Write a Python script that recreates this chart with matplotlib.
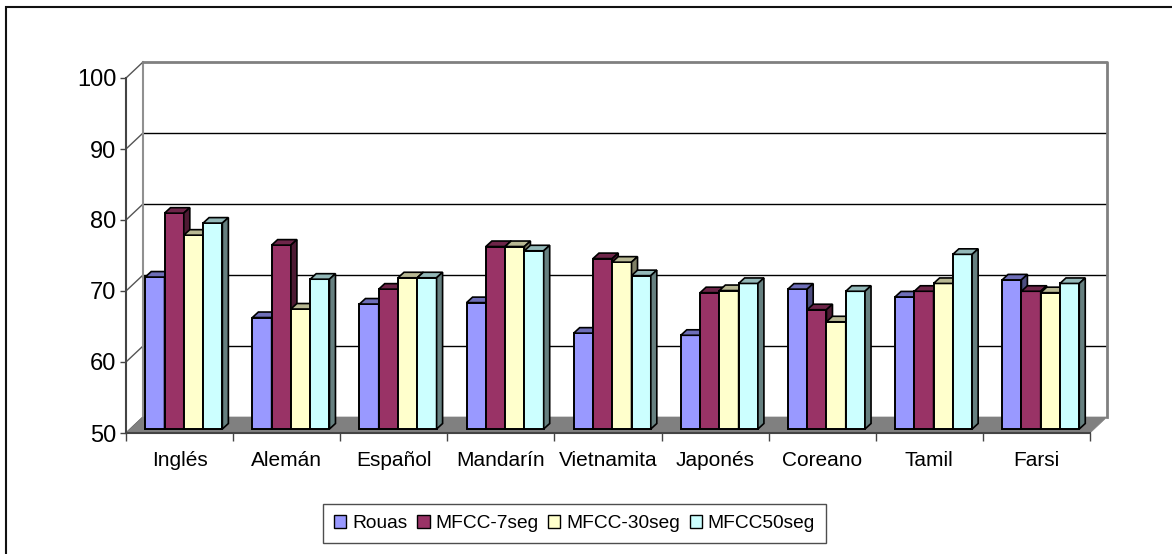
import matplotlib
matplotlib.use("Agg")
import matplotlib.pyplot as plt
from matplotlib.patches import Polygon, Patch, Rectangle
import numpy as np

plt.rcParams['font.family'] = ['Liberation Sans Narrow', 'Liberation Sans', 'DejaVu Sans']

categories = ['Inglés', 'Alemán', 'Español', 'Mandarín', 'Vietnamita',
              'Japonés', 'Coreano', 'Tamil', 'Farsi']
series_names = ['Rouas', 'MFCC-7seg', 'MFCC-30seg', 'MFCC50seg']
rouas = [71.4, 65.7, 67.6, 67.8, 63.5, 63.2, 69.7, 68.6, 71.0]
mfcc_7seg = [80.4, 75.9, 69.7, 75.7, 74.0, 69.2, 66.8, 69.4, 69.4]
mfcc_30seg = [77.3, 66.9, 71.3, 75.7, 73.5, 69.5, 65.1, 70.5, 69.2]
mfcc_50seg = [79.0, 71.1, 71.3, 75.1, 71.6, 70.5, 69.4, 74.6, 70.5]
y_ticks = [50, 60, 70, 80, 90, 100]

series = [rouas, mfcc_7seg, mfcc_30seg, mfcc_50seg]
front_colors = ['#9999FF', '#993366', '#FFFFCC', '#CCFFFF']


def shade(hex_color, f):
    c = np.array(matplotlib.colors.to_rgb(hex_color))
    return tuple(c * f)


W, H = 1172, 554
fig = plt.figure(figsize=(W / 100, H / 100), dpi=100)

# outer chart-area frame
fig.patches.append(Rectangle((6 / W, -0.05), 1.2, (554 - 7) / H + 0.05,
                             transform=fig.transFigure, fill=False,
                             edgecolor='#111111', lw=1.5))

# front plane of the plot: x in category units, y in value units
x0, x1, y_top, y_bot = 126, 1090, 78, 433
ax = fig.add_axes([x0 / W, (H - y_bot) / H, (x1 - x0) / W, (y_bot - y_top) / H])
ax.set_xlim(0, len(categories))
ax.set_ylim(50, 100)
ax.patch.set_visible(False)

# oblique depth of the walls, in data units
px_x = (x1 - x0) / len(categories)
px_y = (y_bot - y_top) / 50.0
ddx, ddy = 17 / px_x, 16 / px_y
n = len(categories)

# back wall
ax.add_patch(Polygon([(ddx, 50 + ddy), (n + ddx, 50 + ddy), (n + ddx, 100 + ddy),
                      (ddx, 100 + ddy)], closed=True, facecolor='white',
                     edgecolor='none', zorder=0, clip_on=False))
for v in y_ticks[1:-1]:
    ax.plot([ddx, n + ddx], [v + ddy, v + ddy], color='black', lw=1,
            zorder=1, clip_on=False)
for v in y_ticks:
    ax.plot([0, ddx], [v, v + ddy], color='#555555', lw=1, zorder=1, clip_on=False)
ax.plot([ddx, n + ddx, n + ddx], [100 + ddy, 100 + ddy, 50 + ddy],
        color='#808080', lw=2, zorder=2, clip_on=False)
ax.plot([ddx, ddx], [50 + ddy, 100 + ddy], color='#909090', lw=1.5, zorder=1.5,
        clip_on=False)

# floor
ax.add_patch(Polygon([(0, 50), (n, 50), (n + ddx, 50 + ddy), (ddx, 50 + ddy)],
                     closed=True, facecolor='#808080', edgecolor='#808080',
                     lw=0.5, zorder=2, clip_on=False))

# bars: front plane sits a quarter of the way into the depth
sx, sy = 0.25 * ddx, 0.25 * ddy
bw = 0.18
margin = (1 - bw * len(series)) / 2
bdx, bdy = 6 / px_x, 5.5 / px_y

xs = np.arange(n)
z = 3
for i in range(n):
    for j, (vals, col) in enumerate(zip(series, front_colors)):
        left = xs[i] + margin + j * bw + sx
        bar = ax.bar(left, vals[i] - 50, width=bw, bottom=50 + sy, align='edge',
                     color=col, edgecolor='black', lw=1.4, zorder=z, clip_on=False)[0]
        bx, by = bar.get_x(), bar.get_y()
        bwid, bh = bar.get_width(), bar.get_height()
        top = by + bh
        ax.add_patch(Polygon([(bx, top), (bx + bwid, top), (bx + bwid + bdx, top + bdy),
                              (bx + bdx, top + bdy)], closed=True,
                             facecolor=shade(col, 0.72), edgecolor='black', lw=1.2,
                             zorder=z, clip_on=False))
        ax.add_patch(Polygon([(bx + bwid, by), (bx + bwid + bdx, by + bdy),
                              (bx + bwid + bdx, top + bdy), (bx + bwid, top)],
                             closed=True, facecolor=shade(col, 0.5),
                             edgecolor='black', lw=1.2, zorder=z, clip_on=False))
        z += 0.01

# axes, ticks and labels on the front plane
for s in ('top', 'right'):
    ax.spines[s].set_visible(False)
for s in ('left', 'bottom'):
    ax.spines[s].set_color('#444444')
    ax.spines[s].set_linewidth(1.5)
    ax.spines[s].set_zorder(10)

ax.set_yticks(y_ticks)
ax.set_yticklabels([str(v) for v in y_ticks])
ax.tick_params(axis='y', direction='out', length=4, width=1, color='#444444',
               pad=3, labelsize=17)
ax.set_xticks(np.arange(n + 1))
ax.set_xticklabels([])
ax.set_xticks(xs + 0.5, minor=True)
ax.set_xticklabels(categories, minor=True)
ax.tick_params(axis='x', which='major', direction='out', length=6, width=1,
               color='#444444')
ax.tick_params(axis='x', which='minor', length=0, pad=13, labelsize=15)

handles = [Patch(facecolor=c, edgecolor='black', lw=1) for c in front_colors]
leg = fig.legend(handles, series_names, loc='center', ncol=4,
                 bbox_to_anchor=(574.5 / W, (H - 523.5) / H), fontsize=13.8,
                 frameon=True, fancybox=False, edgecolor='#222222',
                 handlelength=0.65, handleheight=0.65, handletextpad=0.3,
                 columnspacing=0.5, borderpad=0.55, borderaxespad=0)
leg.get_frame().set_linewidth(1)

fig.savefig('out.png', dpi=100)
